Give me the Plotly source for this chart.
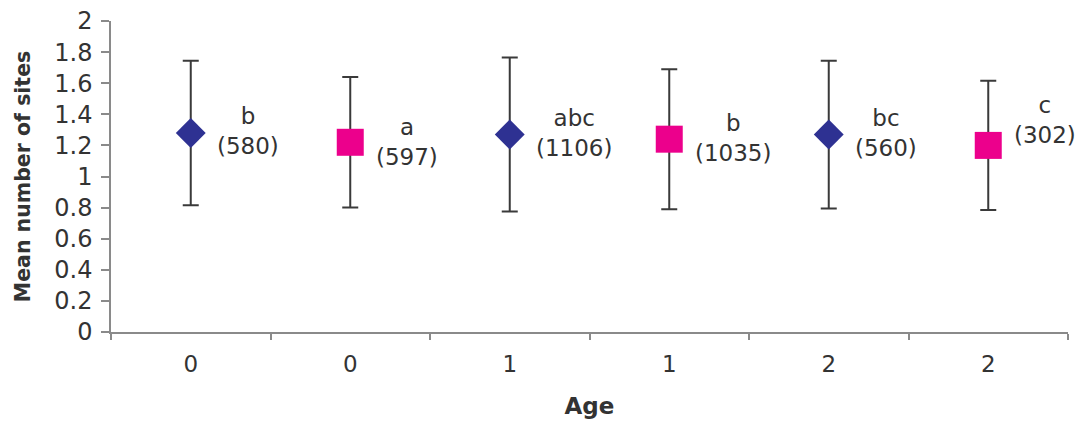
import plotly.graph_objects as go

# Groups along the x axis (age class), alternating two series
age_labels = ["0", "0", "1", "1", "2", "2"]
means = [1.28, 1.22, 1.27, 1.24, 1.27, 1.20]
errors = [0.465, 0.42, 0.495, 0.45, 0.475, 0.415]
letters = ["b", "a", "abc", "b", "bc", "c"]
counts = [580, 597, 1106, 1035, 560, 302]

series_a_idx = [0, 2, 4]   # navy diamonds
series_b_idx = [1, 3, 5]   # magenta squares

FONT = "DejaVu Sans"
TXT = "#333333"
AXIS = "#8a8a8a"

fig = go.Figure()


def add_series(idx, symbol, color, size):
    fig.add_trace(go.Scatter(
        x=idx,
        y=[means[i] for i in idx],
        mode="markers",
        marker=dict(symbol=symbol, color=color, size=size, line=dict(width=0)),
        error_y=dict(type="data", array=[errors[i] for i in idx],
                     color="#3a3a3a", thickness=2, width=8),
        showlegend=False,
        hoverinfo="skip",
    ))


add_series(series_a_idx, "diamond", "#2E3192", 23)
add_series(series_b_idx, "square", "#EC008C", 27)

# Significance letter and sample size beside each marker
label_yshift = [2, 0, 2, 1, 2, 25]
for i in range(len(means)):
    fig.add_annotation(
        x=i, y=means[i],
        text=f"{letters[i]}<br>({counts[i]})",
        showarrow=False,
        xanchor="left", yanchor="middle",
        xshift=24, yshift=label_yshift[i],
        align="center",
        font=dict(family=FONT, size=23, color=TXT),
    )

fig.update_layout(
    width=1075, height=423,
    margin=dict(l=111, r=7, t=17, b=91),
    paper_bgcolor="white",
    plot_bgcolor="white",
    font=dict(family=FONT, size=22, color=TXT),
)

fig.update_xaxes(
    range=[-0.5, 5.5],
    tickmode="array",
    tickvals=list(range(len(age_labels))),
    ticktext=age_labels,
    ticks="",
    ticklabelstandoff=11,
    showgrid=False, zeroline=False,
    showline=True, linecolor=AXIS, linewidth=1.5,
    minor=dict(tickmode="linear", tick0=-0.5, dtick=1, ticks="outside",
               ticklen=6, tickwidth=1.5, tickcolor=AXIS, showgrid=False),
    tickfont=dict(family=FONT, size=23, color=TXT),
    title=dict(text="<b>Age</b>", font=dict(family=FONT, size=23, color=TXT),
               standoff=22),
)

fig.update_yaxes(
    range=[0, 2],
    tickmode="linear", tick0=0, dtick=0.2,
    tickformat="~g",
    ticks="outside", ticklen=8, tickwidth=1.5, tickcolor=AXIS,
    ticklabelstandoff=4,
    showgrid=False, zeroline=False,
    showline=True, linecolor=AXIS, linewidth=1.5,
    tickfont=dict(family=FONT, size=24, color=TXT),
    title=dict(text="<b>Mean number of sites</b>",
               font=dict(family=FONT, size=20.5, color=TXT), standoff=18),
)

fig.write_html("out.html")
